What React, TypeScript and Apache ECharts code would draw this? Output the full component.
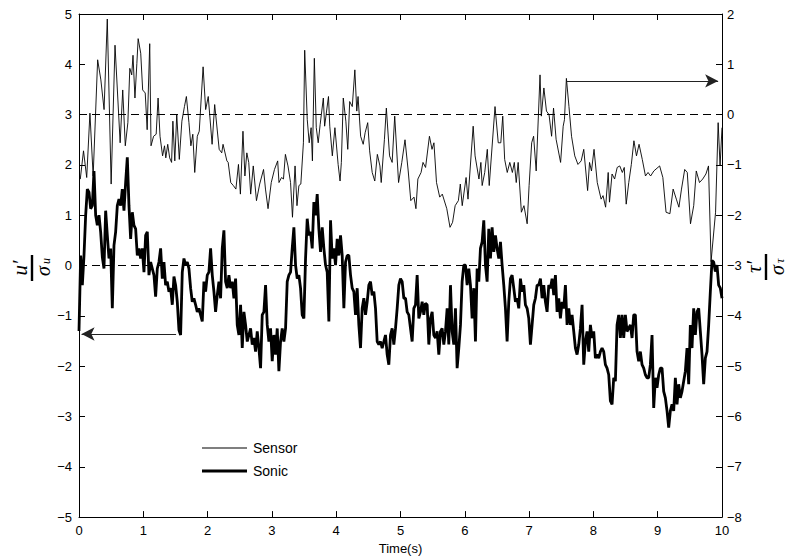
import React, { useEffect, useRef } from 'react';
import * as echarts from 'echarts';

// Sonic: u'/sigma_u (left axis), sampled at a fixed interval over 0..10 s
const SONIC_SAMPLE_INTERVAL = 10 / 386;
const SONIC: number[] = [
  -1.3,
  0.2, -0.39, 0.2, 1.0, 1.52, 1.46, 1.13, 1.19, 1.88, 1.0,
  0.8, 1.0, 0.67, 0.17, -0.06, 1.09, 0.6, 0.14, 0.34, -0.85,
  0.4, 0.67, 1.19, 1.32, 1.19, 1.52, 1.09, 1.65, 2.15, 1.19,
  0.53, 1.06, 0.8, 0.73, 0.2, 0.34, 0.14, 0.34, -0.13, 0.6,
  0.67, -0.19, 0.07, -0.06, -0.19, -0.62, -0.06, 0.07, 0.34, -0.26,
  0.07, -0.39, -0.32, -0.52, -0.45, -0.78, -0.22, -0.39, -0.72, -1.28,
  -1.38, -0.13, 0.14, 0.01, 0.07, -0.06, -0.45, -0.72, -0.65, -0.78,
  -0.92, -0.85, -0.98, -1.11, -0.32, -0.52, -0.19, -0.13, 0.34, -0.19,
  -0.52, -0.92, -0.59, -0.32, -0.65, 0.34, 0.7, -0.32, -0.45, -0.19,
  -0.45, -0.32, -0.65, -0.26, -1.18, -1.38, -0.78, -1.64, -0.92, -1.18,
  -1.51, -1.38, -1.25, -1.57, -1.44, -1.71, -1.31, -1.64, -2.04, -0.98,
  -0.92, -0.39, -1.18, -1.51, -1.25, -1.9, -1.38, -1.77, -1.25, -2.1,
  -1.51, -1.25, -1.51, -1.25, -0.32, -0.19, -0.13, 0.34, 0.76, 0.01,
  -0.26, -0.19, -0.45, -0.98, -1.05, 0.14, 0.93, 0.6, 0.67, 0.34,
  1.26, 1.0, 1.42, 0.73, 0.27, 0.76, 0.34, 0.01, -0.13, -1.11,
  0.9, 0.14, 0.34, 0.01, 0.53, 0.2, 0.6, 0.2, -0.85, 0.07,
  0.2, 0.2, -0.19, -0.45, -0.52, -0.98, -0.45, -1.18, -1.64, -0.85,
  -0.65, -0.98, -0.72, -0.39, -0.32, -0.59, -0.52, -0.85, -1.51, -1.57,
  -1.51, -1.64, -1.51, -1.38, -1.77, -1.97, -1.38, -1.25, -1.57, -1.25,
  -0.85, -0.39, -0.26, -0.32, -0.65,
  -0.65, -0.92, -0.98, -1.25, -1.51, -0.85, -0.78, -0.19, -1.05, -0.92,
  -0.72, -0.98, -0.75, -0.78, -1.57, -1.05, -0.92, -1.38, -1.44, -1.31,
  -1.77, -1.31, -1.25, -1.57, -1.31, -0.85, -1.57, -0.39, -1.31, -1.57,
  -0.85, -2.04, -1.64, -1.18, -0.32, 0.01, 0.01, -0.39, -0.06, -0.39,
  -1.05, -0.45, -1.51, -0.06, -0.32, 0.34, 0.47, 0.9, 0.01, -0.32,
  0.73, 0.14, 0.76, 0.27, 0.6, 0.34, 0.14, 0.47, 0.01, -0.39,
  -0.85, -1.51, -0.72, -0.26, -0.19, -0.45, -0.72, -0.65, -0.85, -0.26,
  -0.52, -0.39, -0.78, -0.85, -1.05, -1.57, -1.18, -0.78, -0.65, -0.39,
  -0.39, -0.26, -0.65, -0.39, -0.72, -0.92, -0.39, -0.45, -0.26, -0.59,
  -0.19, -0.92, -0.65, -1.05, -0.72, -0.85, -0.39, -1.18, -0.85, -1.18,
  -0.98, -1.31, -1.64, -1.77, -1.57, -1.25, -0.78, -1.97, -1.51, -1.31,
  -1.71, -1.18, -1.44, -1.31, -1.84, -1.77, -1.84, -1.71, -1.64, -1.71,
  -1.97, -2.04, -2.17, -2.69, -2.76, -2.23, -2.3, -1.18, -0.98, -1.44,
  -0.98, -1.44, -0.98, -1.31, -1.25, -1.18, -1.44, -0.98, -0.98, -1.71,
  -1.9, -1.71, -1.97, -2.04, -2.17, -2.23, -2.23, -1.97, -1.38, -2.83,
  -2.23, -2.43, -2.17, -2.04, -2.04, -2.5, -2.63, -2.89, -3.22, -2.89,
  -2.76, -2.89, -2.23, -2.76, -2.36, -2.63, -2.5, -2.3, -2.1, -1.64,
  -2.36, -1.18, -1.64, -0.85, -1.38, -0.92, -0.85, -1.31, -1.77, -2.36,
  -1.84, -1.71, -1.18, -0.52, 0.1, 0.07, -0.12, 0.01, -0.39, -0.45,
  -0.65,
];

// Sensor: tau'/sigma_tau (right axis), [time (s), value]
const SENSOR: [number, number][] = [
  [0, -1.3], [0.02, -1.28], [0.07, -0.72], [0.12, -1.25], [0.17, 0.03], [0.22, -1.22], [0.29, 1.09], [0.34, 0.69], [0.39, 0.1], [0.44, 1.9],
  [0.5, -1.38], [0.56, 1.38], [0.64, -0.56], [0.68, 0.49], [0.72, -0.62], [0.76, -0.16], [0.79, 0.92], [0.82, 0.79], [0.84, 1.18], [0.87, 0.33],
  [0.9, 1.02], [0.92, 1.51], [0.96, 1.22], [0.99, 0.49], [1.03, 0.43], [1.06, -0.3], [1.1, 1.41], [1.12, -0.62], [1.16, -0.43], [1.2, -0.39],
  [1.23, 0.33], [1.26, -0.43], [1.3, -0.82], [1.33, -0.62], [1.35, -0.86], [1.38, -0.59], [1.41, -0.86], [1.44, -0.95], [1.46, -0.13], [1.49, -0.92],
  [1.52, 0], [1.56, -0.89], [1.6, -0.13], [1.64, 0.16], [1.67, 0.36], [1.71, -0.16], [1.74, -0.62], [1.77, -0.39], [1.8, -1.15], [1.84, -0.43],
  [1.87, -0.33], [1.93, 0.95], [1.97, 0.1], [2.01, 0.36], [2.07, -0.59], [2.11, 0.2], [2.18, -0.69], [2.22, -0.76], [2.24, -0.59], [2.3, -0.92],
  [2.32, -0.95], [2.36, -1.35], [2.4, -1.41], [2.44, -1.48], [2.48, -0.99], [2.51, -1.58], [2.55, -0.33], [2.58, -1.22], [2.61, -0.76], [2.64, -0.95],
  [2.67, -1.58], [2.71, -1.02], [2.76, -1.71], [2.81, -1.38], [2.87, -1.09], [2.9, -1.48], [2.94, -1.87], [2.99, -1.35], [3.04, -1.09], [3.09, -0.92],
  [3.11, -1.35], [3.15, -1.25], [3.18, -1.28], [3.21, -0.79], [3.25, -1.02], [3.29, -1.35], [3.32, -2.04], [3.36, -1.02], [3.39, -1.81], [3.42, -1.41],
  [3.45, -1.38], [3.49, -0.56], [3.51, 1.28], [3.55, -0.1], [3.58, -0.56], [3.61, -0.26], [3.63, -0.92], [3.66, 1.12], [3.69, -0.26], [3.72, -0.56],
  [3.75, -0.2], [3.8, 0.33], [3.82, -0.23], [3.88, 0.36], [3.9, -0.23], [3.94, -0.82], [3.98, -0.26], [4.03, -0.99], [4.06, -1.32], [4.08, -0.95],
  [4.11, 0.33], [4.15, -0.13], [4.18, -0.69], [4.21, 0.26], [4.25, 0.16], [4.29, 0.89], [4.32, 0.07], [4.34, 0.36], [4.38, -0.43], [4.42, -0.59],
  [4.45, -0.36], [4.49, -0.16], [4.52, -0.72], [4.56, -1.15], [4.6, -1.32], [4.64, -0.79], [4.68, -1.02], [4.7, -1.35], [4.75, -0.49], [4.78, 0.13],
  [4.83, -0.82], [4.87, -0.95], [4.91, -0.03], [4.97, -1.35], [5.02, -0.95], [5.07, -0.5], [5.12, -1.12], [5.16, -1.71], [5.21, -1.64], [5.24, -1.87],
  [5.27, -1.28], [5.32, -1.15], [5.35, -0.95], [5.39, -1.05], [5.45, -0.43], [5.49, -0.69], [5.52, -0.56], [5.56, -1.35], [5.61, -1.64], [5.65, -1.58],
  [5.72, -1.87], [5.77, -2.24], [5.81, -2.14], [5.85, -1.81], [5.9, -1.71], [5.93, -1.38], [5.96, -1.81], [6.02, -1.25], [6.05, -1.68], [6.13, -0.23],
  [6.16, -0.82], [6.22, -1.28], [6.25, -0.95], [6.27, -1.41], [6.31, -1.15], [6.35, -0.69], [6.38, -1.41], [6.47, 0.16], [6.52, -0.56], [6.56, -0.56],
  [6.59, -0.03], [6.62, -0.89], [6.66, -1.15], [6.7, -0.95], [6.74, -1.15], [6.77, -0.95], [6.8, -1.35], [6.83, -0.95], [6.88, -1.94], [6.92, -1.81],
  [6.97, -2.17], [7, -1.41], [7.04, -0.56], [7.07, -0.43], [7.11, -1.12], [7.17, 0.79], [7.19, -0.03], [7.23, 0.53], [7.27, 0.07], [7.31, 0],
  [7.35, -0.43], [7.38, 0.13], [7.42, -0.49], [7.49, -0.95], [7.53, -0.23], [7.55, -0.1], [7.58, 0.72], [7.62, 0.16], [7.66, -0.43], [7.71, -0.82],
  [7.76, -0.99], [7.81, -0.92], [7.85, -0.69], [7.91, -1.51], [7.94, -0.95], [7.97, -1.12], [8.01, -0.69], [8.06, -1.35], [8.12, -1.68], [8.15, -1.61],
  [8.19, -1.84], [8.23, -1.15], [8.25, -1.74], [8.29, -1.18], [8.33, -1.28], [8.37, -1.05], [8.41, -1.02], [8.45, -1.15], [8.48, -1.05], [8.51, -1.78],
  [8.55, -1.35], [8.59, -0.99], [8.63, -0.52], [8.67, -0.82], [8.71, -0.59], [8.76, -0.89], [8.81, -1.22], [8.85, -1.15], [8.89, -1.22], [8.94, -1.12],
  [9.03, -1.02], [9.08, -1.25], [9.13, -1.94], [9.19, -1.97], [9.24, -1.48], [9.29, -1.68], [9.33, -1.84], [9.37, -1.48], [9.42, -1.09], [9.46, -1.15],
  [9.51, -2.17], [9.56, -1.81], [9.6, -1.12], [9.65, -1.35], [9.7, -1.28], [9.75, -1.18], [9.79, -1.02], [9.83, -2.92], [9.9, -1.94], [9.94, -0.16],
  [9.97, -1.02], [10, -0.26],
];

const LEFT_REFERENCE_LINES = [3, 0];
const LEFT_ARROW: [number, number][] = [[1.51, -1.36], [0.04, -1.36]];
const RIGHT_ARROW: [number, number][] = [[7.58, 0.67], [9.94, 0.67]];

const SANS = '"Liberation Sans", Arial, Helvetica, sans-serif';
const SERIF = '"Liberation Serif", "DejaVu Serif", serif';
const minus = (v: number) => String(v).replace('-', '\u2212');

function fraction(cx: number, cy: number, num: string, den: string, sub: string) {
  return {
    type: 'group',
    x: cx,
    y: cy,
    rotation: Math.PI / 2,
    children: [
      { type: 'text', x: 0, y: -2, style: { text: num, fontSize: 21, fontStyle: 'italic', fontFamily: SERIF, fill: '#000', align: 'center', verticalAlign: 'bottom' } },
      { type: 'rect', shape: { x: -13, y: -1.2, width: 26, height: 2.4 }, style: { fill: '#000' } },
      { type: 'text', x: -3, y: 1, style: { text: den, fontSize: 20, fontStyle: 'italic', fontFamily: SERIF, fill: '#000', align: 'center', verticalAlign: 'top' } },
      { type: 'text', x: 4, y: 8, style: { text: sub, fontSize: 12, fontStyle: 'italic', fontFamily: SERIF, fill: '#000', align: 'left', verticalAlign: 'top' } },
    ],
  };
}

function legendFor(name: string, top: number, thickness: number) {
  return {
    orient: 'vertical',
    left: 197,
    top,
    itemWidth: 45,
    itemHeight: thickness,
    icon: 'rect',
    selectedMode: false,
    data: [name],
    itemStyle: { color: '#000', borderWidth: 0 },
    textStyle: { fontSize: 14, fontFamily: SANS, color: '#000', padding: [0, 0, 0, 1] },
  };
}

export default function App() {
  const ref = useRef<HTMLDivElement>(null);
  useEffect(() => {
    if (!ref.current) return;
    const chart = echarts.init(ref.current, undefined, { renderer: 'svg' });
    const sonicData = SONIC.map((v, i) => [i * SONIC_SAMPLE_INTERVAL, v]);
    const axisCommon = {
      type: 'value',
      axisLine: { show: true, onZero: false, lineStyle: { color: '#000', width: 1 } },
      axisTick: { show: true, inside: true, length: 6, lineStyle: { color: '#000', width: 1 } },
      splitLine: { show: false },
    };
    const option: any = {
      animation: false,
      backgroundColor: '#fff',
      grid: { left: 79, right: 68, top: 14, bottom: 40, containLabel: false },
      legend: [legendFor('Sensor', 436, 1), legendFor('Sonic', 459, 3)],
      xAxis: [
        {
          ...axisCommon,
          min: 0, max: 10, interval: 1, position: 'bottom',
          axisLabel: { color: '#000', fontSize: 13, fontFamily: SANS, margin: 7 },
          name: 'Time(s)', nameLocation: 'middle', nameGap: 23,
          nameTextStyle: { fontSize: 13, fontFamily: SANS, color: '#000' },
        },
        {
          ...axisCommon,
          min: 0, max: 10, interval: 1, position: 'top',
          axisLabel: { show: false },
        },
      ],
      yAxis: [
        {
          ...axisCommon,
          min: -5, max: 5, interval: 1, position: 'left',
          axisLabel: { color: '#000', fontSize: 13, fontFamily: SANS, margin: 7, formatter: minus },
        },
        {
          ...axisCommon,
          min: -8, max: 2, interval: 1, position: 'right',
          axisLabel: { color: '#000', fontSize: 13, fontFamily: SANS, margin: 5, formatter: minus },
        },
      ],
      series: [
        {
          name: 'Sonic', type: 'line', xAxisIndex: 0, yAxisIndex: 0,
          data: sonicData, symbol: 'none', silent: true,
          lineStyle: { color: '#000', width: 2.8 }, itemStyle: { color: '#000' },
          markLine: {
            silent: true, symbol: ['none', 'none'], label: { show: false },
            emphasis: { disabled: true },
            lineStyle: { color: '#000', width: 1, type: [8, 5] },
            data: [
              ...LEFT_REFERENCE_LINES.map((y) => ({ yAxis: y })),
              [
                { coord: LEFT_ARROW[0], symbol: 'none', lineStyle: { type: 'solid', color: '#222', width: 1 } },
                { coord: LEFT_ARROW[1], symbol: 'arrow', symbolSize: [10, 13] },
              ],
            ],
          },
        },
        {
          name: 'Sensor', type: 'line', xAxisIndex: 0, yAxisIndex: 1,
          data: SENSOR, symbol: 'none', silent: true,
          lineStyle: { color: '#000', width: 0.9 }, itemStyle: { color: '#000' },
          markLine: {
            silent: true, symbol: ['none', 'none'], label: { show: false },
            emphasis: { disabled: true },
            lineStyle: { color: '#222', width: 1, type: 'solid' },
            data: [
              [
                { coord: RIGHT_ARROW[0], symbol: 'none' },
                { coord: RIGHT_ARROW[1], symbol: 'arrow', symbolSize: [10, 13] },
              ],
            ],
          },
        },
      ],
      graphic: [
        fraction(32, 268, 'u\u2032', '\u03c3', 'u'),
        fraction(766, 267, '\u03c4\u2032', '\u03c3', '\u03c4'),
      ],
    };
    chart.setOption(option);
    return () => chart.dispose();
  }, []);
  return (
    <div
      ref={ref}
      style={{ position: 'fixed', left: 0, top: 0, width: 790, height: 560, background: '#fff' }}
    />
  );
}
